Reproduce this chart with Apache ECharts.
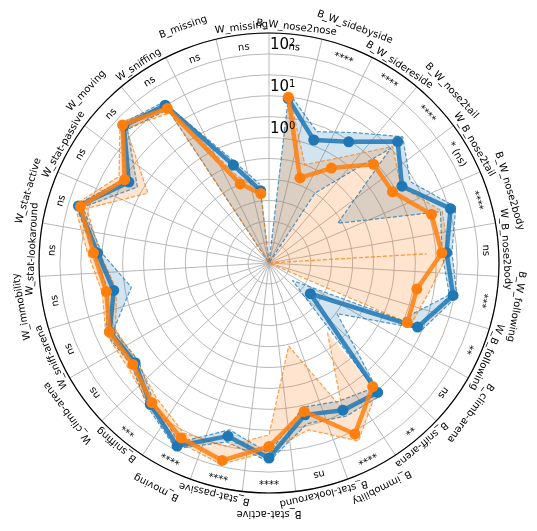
<!DOCTYPE html>
<html><head><meta charset="utf-8">
<script src="https://cdn.jsdelivr.net/npm/echarts@6/dist/echarts.min.js"></script>
<style>html,body{margin:0;padding:0;background:#fff}#c{width:537px;height:531px}</style>
</head><body><div id="c"></div>
<script>
const categories = ['B_W_nose2nose','B_W_sidebyside','B_W_sidereside','B_W_nose2tail','W_B_nose2tail','B_W_nose2body','W_B_nose2body','B_W_following','W_B_following','B_climb-arena','B_sniff-arena','B_immobility','B_stat-lookaround','B_stat-active','B_stat-passive','B_moving','B_sniffing','W_climb-arena','W_sniff-arena','W_immobility','W_stat-lookaround','W_stat-active','W_stat-passive','W_moving','W_sniffing','B_missing','W_missing'];
const significance = ['ns','****','****','****','* (ns)','****','ns','***','**','ns','**','****','ns','****','****','****','***','ns','ns','ns','ns','ns','ns','ns','ns','ns','ns'];

const blueMean = [9.1,1.35,2.95,17,4.7,34,18,29.5,7.4,0.017,11,8.7,5.4,46,18,79,26,9.8,14,5.9,12.8,57,7.4,59,33,0.31,0.055];
const blueLow  = [7.1,0.001,0.1,10,0.079,19,14,24,2.75,0.005,7.9,5.0,3.5,35.5,12.6,63,20,7.9,11.2,2.2,10,44.7,4.3,44.7,25,0.001,0.04];
const blueHigh = [12.6,2.2,5.4,25,7.9,46,24,37,10,0.107,14,12.6,8.9,56,25,93,32,12.6,17.8,7.9,15.8,66,10,71,40,0.45,0.079];

const orangeMean = [9.8,0.146,0.52,2.75,2.56,11.4,13.8,3.9,4.0,null,7.2,37.5,4.45,24.4,71,48,22.9,11.5,14.4,8.9,16,51,9.7,65,26.6,0.103,0.047];
const orangeLow  = [0.001,0.001,0.001,0.001,0.001,0.001,6.0,0.001,2.8,null,0.15,7.9,0.11,12.9,31.6,35.5,15.8,8.9,10,5.0,11.2,35.5,2.2,50,20,0.001,0.032];
const orangeHigh = [12.6,0.32,1.0,11.5,4.4,21,20,7.9,5.0,null,10,58,12.6,31.6,89,63,28,15.8,17.8,11.2,22.4,71,13.8,79,32,0.16,0.063];

const radialTicks = [0,1,2];
const radialTickLabels = ['10{s|0}','10{s|1}','10{s|2}'];

const BLUE = '#1f77b4', ORANGE = '#ff7f0e';
const lg = v => (v == null ? '-' : Math.log10(v));
const toData = arr => arr.map((v, i) => [lg(v), i]);

function bandSeries(low, high, fill, z) {
  return {
    type: 'custom', coordinateSystem: 'polar', z: z, silent: true,
    data: [[0, 0]],
    renderItem: function (params, api) {
      const children = [];
      let seg = [];
      const flush = () => {
        if (seg.length > 1) {
          const pts = [];
          seg.forEach(i => pts.push(api.coord([lg(high[i]), i])));
          seg.slice().reverse().forEach(i => pts.push(api.coord([lg(low[i]), i])));
          children.push({ type: 'polygon', shape: { points: pts }, style: { fill: fill, stroke: null } });
        }
        seg = [];
      };
      for (let i = 0; i < categories.length; i++) {
        if (low[i] == null || high[i] == null) flush(); else seg.push(i);
      }
      flush();
      return { type: 'group', children: children };
    }
  };
}

function dashed(arr, color, z) {
  return {
    type: 'line', coordinateSystem: 'polar', data: toData(arr), z: z, silent: true,
    symbol: 'none', connectNulls: false,
    lineStyle: { color: color, width: 1.2, type: [4, 2], opacity: 0.75 }
  };
}

function meanLine(arr, color, z) {
  return {
    type: 'line', coordinateSystem: 'polar', data: toData(arr), z: z,
    symbol: 'circle', symbolSize: 11, connectNulls: false,
    lineStyle: { color: color, width: 4.5, opacity: 0.85 },
    itemStyle: { color: color, opacity: 1 }
  };
}

function angleOf(p, cs) { return Math.atan2(p[0] - cs.cx, cs.cy - p[1]); }

const catLabelSeries = {
  type: 'custom', coordinateSystem: 'polar', z: 20, silent: true,
  data: categories.map((c, i) => [2.5, i]),
  renderItem: function (params, api) {
    const cs = params.coordSys;
    const i = api.value(1);
    const p = api.coord([2.5, i]);
    const a = angleOf(p, cs);
    const rr = cs.r + (i % 2 === 0 ? 7 : 21);
    return {
      type: 'text', x: cs.cx + rr * Math.sin(a), y: cs.cy - rr * Math.cos(a), rotation: -a,
      style: { text: categories[i], fontSize: 10, fontFamily: 'DejaVu Sans', fill: '#000', align: 'center', verticalAlign: 'middle' }
    };
  }
};

const sigLabelSeries = {
  type: 'custom', coordinateSystem: 'polar', z: 20, silent: true,
  data: significance.map((c, i) => [2.5, i]),
  renderItem: function (params, api) {
    const cs = params.coordSys;
    const i = api.value(1);
    const p = api.coord([2.5, i]);
    const a = angleOf(p, cs);
    const rr = cs.r - 13;
    return {
      type: 'text', x: cs.cx + rr * Math.sin(a), y: cs.cy - rr * Math.cos(a), rotation: -a,
      style: { text: significance[i], fontSize: 10, fontFamily: 'DejaVu Sans', fill: '#000', align: 'center', verticalAlign: 'middle' }
    };
  }
};

const radialLabelSeries = {
  type: 'custom', coordinateSystem: 'polar', z: 25, silent: true,
  data: radialTicks.map(t => [t, 0]),
  renderItem: function (params, api) {
    const cs = params.coordSys;
    const t = api.value(0);
    const p = api.coord([t, 0]);
    const rr = Math.hypot(p[0] - cs.cx, p[1] - cs.cy);
    return {
      type: 'text', x: cs.cx + 1, y: cs.cy - rr - 1,
      style: {
        text: radialTickLabels[params.dataIndex], fontSize: 15, fontFamily: 'DejaVu Sans', fill: '#000',
        align: 'left', verticalAlign: 'bottom',
        rich: { s: { fontSize: 10, fontFamily: 'DejaVu Sans', fill: '#000', verticalAlign: 'top', lineHeight: 10 } }
      }
    };
  }
};

const chart = echarts.init(document.getElementById('c'), null, { renderer: 'canvas' });
chart.setOption({
  backgroundColor: '#fff',
  animation: false,
  polar: { center: [269, 263], radius: 230 },
  angleAxis: {
    type: 'category', data: categories, startAngle: 90, clockwise: true, boundaryGap: true,
    axisLine: { show: true, lineStyle: { color: '#000', width: 1.2 } },
    axisTick: { show: false, interval: 0 },
    axisLabel: { show: false, interval: 0 },
    splitLine: { show: true, interval: 0, lineStyle: { color: '#b0b0b0', width: 0.9 } }
  },
  radiusAxis: {
    type: 'value', min: -3, max: 2.5, interval: 0.5,
    axisLine: { show: false }, axisTick: { show: false }, axisLabel: { show: false },
    splitLine: { show: true, lineStyle: { color: '#b0b0b0', width: 0.9 } }
  },
  series: [
    bandSeries(blueLow, blueHigh, 'rgba(31,119,180,0.2)', 1),
    bandSeries(orangeLow, orangeHigh, 'rgba(255,127,14,0.2)', 2),
    dashed(blueLow, BLUE, 3), dashed(blueHigh, BLUE, 3),
    dashed(orangeLow, ORANGE, 4), dashed(orangeHigh, ORANGE, 4),
    meanLine(blueMean, BLUE, 5),
    meanLine(orangeMean, ORANGE, 6),
    catLabelSeries, sigLabelSeries, radialLabelSeries
  ]
});
</script></body></html>
